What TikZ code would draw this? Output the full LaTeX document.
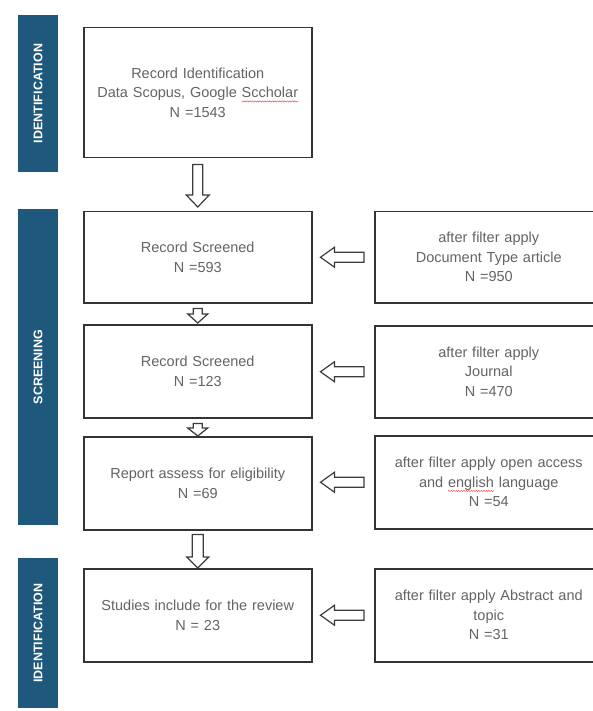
\documentclass[tikz,border=0pt]{standalone}
\usepackage{fontspec}
\setmainfont{Liberation Sans}
\usetikzlibrary{calc,decorations.pathmorphing}
\definecolor{barblue}{RGB}{30,88,124}
\definecolor{boxline}{RGB}{50,52,56}
\definecolor{txtgray}{RGB}{100,100,100}
\definecolor{arrline}{RGB}{60,60,60}
\newcommand{\squig}[1]{\setbox0=\hbox{#1}\rlap{\tikz[overlay,baseline=0pt]\draw[red!70,line width=0.5pt,decorate,decoration={snake,amplitude=0.6pt,segment length=2.5pt}] (0pt,-3.5pt) -- (\the\wd0,-3.5pt);}#1}
% hollow down arrow: from, to, shaft half width, head half width, head length
\newcommand{\hdown}[5]{\draw[hollowarrow] let \p1=(#1), \p2=(#2) in
  (\x1-#3pt,\y1) -- (\x1+#3pt,\y1) -- (\x1+#3pt,\y2+#5pt) -- (\x1+#4pt,\y2+#5pt) --
  (\x1,\y2) -- (\x1-#4pt,\y2+#5pt) -- (\x1-#3pt,\y2+#5pt) -- cycle;}
% hollow left arrow: from (tail), to (tip), shaft half, head half, head length
\newcommand{\hleft}[5]{\draw[hollowarrow] let \p1=(#1), \p2=(#2) in
  (\x1,\y1-#3pt) -- (\x1,\y1+#3pt) -- (\x2+#5pt,\y1+#3pt) -- (\x2+#5pt,\y1+#4pt) --
  (\x2,\y1) -- (\x2+#5pt,\y1-#4pt) -- (\x2+#5pt,\y1-#3pt) -- cycle;}
\begin{document}
\begin{tikzpicture}[x=1pt,y=-1pt,
  stagebar/.style={fill=barblue,draw=none,inner sep=0pt,rotate=90,minimum height=40pt,
    text=white,font=\bfseries\fontsize{12.5}{14}\selectfont},
  stepbox/.style={draw=boxline,line width=1.5pt,fill=white,minimum width=228pt,
    text width=224pt,align=center,inner sep=0pt,anchor=north west,text=txtgray,
    font=\fontsize{14.5}{19.5}\selectfont},
  hollowarrow/.style={draw=arrline,line width=1.2pt,fill=white,line join=miter}]
\useasboundingbox[fill=white] (0,0) rectangle (592,711);
% stage bars
\node[stagebar,minimum width=157pt] (s1) at (38,93.5) {IDENTIFICATION};
\node[stagebar,minimum width=316pt] (s2) at (38,367) {SCREENING};
\node[stagebar,minimum width=150pt] (s3) at (38,633) {IDENTIFICATION};
% left column
\node[stepbox,minimum height=130pt] (b1) at (83,27) {Record Identification\\Data Scopus, Google \squig{Sccholar}\\N =1543};
\node[stepbox,minimum height=91pt] (b2) at (83,211) {Record Screened\\N =593};
\node[stepbox,minimum height=93pt] (b3) at (83,324) {Record Screened\\N =123};
\node[stepbox,minimum height=93pt] (b4) at (83,436) {Report assess for eligibility\\N =69};
\node[stepbox,minimum height=93pt] (b5) at (83,568) {Studies include for the review\\N = 23};
% right column
\node[stepbox,minimum height=91pt] (r2) at (374,211) {after filter apply\\Document Type article\\N =950};
\node[stepbox,minimum height=92pt] (r3) at (374,325) {after filter apply\\Journal\\N =470};
\node[stepbox,minimum height=93pt] (r4) at (374,435) {after filter apply open access\\and \squig{english} language\\N =54};
\node[stepbox,minimum height=93pt] (r5) at (374,568) {after filter apply Abstract and\\topic\\N =31};
% down arrows
\coordinate (d1s) at ([yshift=-6pt]b1.south);
\coordinate (d1e) at ([yshift=4pt]b2.north);
\hdown{d1s}{d1e}{5}{11.5}{12}
\coordinate (d2s) at ([yshift=-5pt]b2.south);
\coordinate (d2e) at ([yshift=1pt]b3.north);
\hdown{d2s}{d2e}{4.5}{10}{9}
\coordinate (d3s) at ([yshift=-5pt]b3.south);
\coordinate (d3e) at (b4.north);
\hdown{d3s}{d3e}{4.5}{10}{8}
\coordinate (d4s) at ([yshift=-4pt]b4.south);
\coordinate (d4e) at (b5.north);
\hdown{d4s}{d4e}{5.5}{11}{11}
% left arrows
\foreach \r/\b in {r2/b2,r3/b3,r4/b4,r5/b5}{
  \coordinate (\r t) at ([xshift=-10pt]\r.west);
  \coordinate (\r h) at ([xshift=8pt]\b.east);
  \hleft{\r t}{\r h}{5}{10}{14}
}
\end{tikzpicture}
\end{document}
